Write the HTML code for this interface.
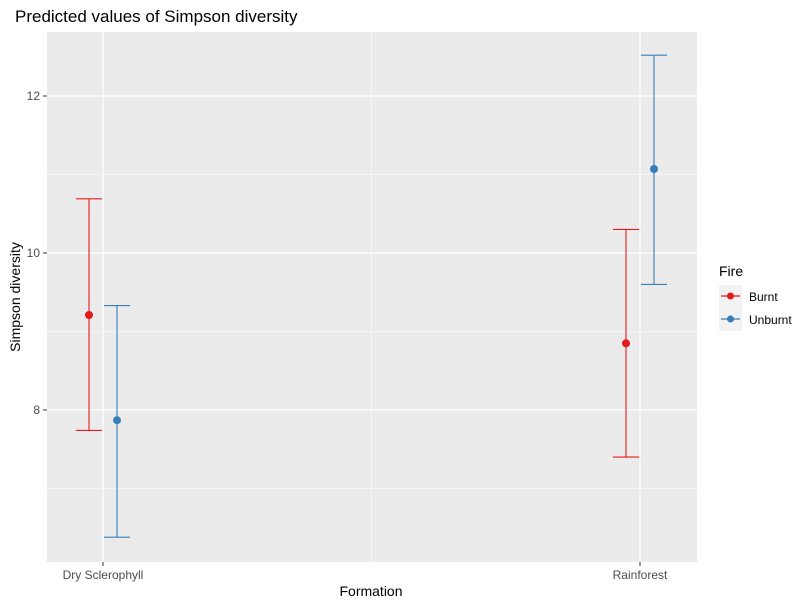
<!DOCTYPE html>
<html><head><meta charset="utf-8"><style>
body{margin:0;background:#fff;font-family:"Liberation Sans",sans-serif}
</style></head><body>
<svg width="808" height="606" xmlns="http://www.w3.org/2000/svg" font-family="Liberation Sans, sans-serif">
<text x="15" y="22" font-size="17" fill="#000">Predicted values of Simpson diversity</text>
<rect x="47" y="32" width="650" height="530" fill="#EBEBEB"/>
<g id="grid"></g>
<g id="marks"></g>
<g id="axes"></g>
<text x="371" y="596" font-size="14" text-anchor="middle">Formation</text>
<text transform="translate(20,297) rotate(-90)" font-size="14" text-anchor="middle">Simpson diversity</text>
<g>
<text x="719" y="276" font-size="14">Fire</text>
<rect x="719" y="285" width="23" height="46" fill="#F2F2F2"/>
<g>
<line x1="721" x2="740" y1="296" y2="296" stroke="#E41A1C" stroke-width="1.2"/>
<circle cx="730.5" cy="296" r="3.5" fill="#E41A1C"/>
<text x="749" y="301" font-size="12">Burnt</text></g>
<g>
<line x1="721" x2="740" y1="319" y2="319" stroke="#377EB8" stroke-width="1.2"/>
<circle cx="730.5" cy="319" r="3.5" fill="#377EB8"/>
<text x="749" y="324" font-size="12">Unburnt</text></g>
</g>
</svg>
<script>
const categories=["Dry Sclerophyll","Rainforest"];
const groups=["Burnt","Unburnt"];
const colors=["#E41A1C","#377EB8"];
const burntPred=[9.21,8.85];
const burntLow=[7.74,7.40];
const burntHigh=[10.69,10.30];
const unburntPred=[7.87,11.07];
const unburntLow=[6.38,9.60];
const unburntHigh=[9.33,12.52];
const yTicks=[8,10,12];
const yMinor=[7,9,11];
const NS="http://www.w3.org/2000/svg";
const y=v=>410-(v-8)*78.5;
const x=i=>103+i*537;
function mk(t,a,p){const e=document.createElementNS(NS,t);for(const k in a)e.setAttribute(k,a[k]);p.appendChild(e);return e;}
const grid=document.getElementById('grid'),marks=document.getElementById('marks'),axes=document.getElementById('axes');
yMinor.forEach(v=>{const l=mk('line',{x1:47,x2:697,y1:y(v),y2:y(v),stroke:'#fff','stroke-width':0.6},grid);

});
yTicks.forEach(v=>{const l=mk('line',{x1:47,x2:697,y1:y(v),y2:y(v),stroke:'#fff','stroke-width':1.2},grid);


mk('line',{x1:43,x2:47,y1:y(v),y2:y(v),stroke:'#333'},axes);
const t=mk('text',{x:40,y:y(v)+4,'font-size':12,'text-anchor':'end',fill:'#4D4D4D'},axes);t.textContent=v;

});
mk('line',{x1:371.5,x2:371.5,y1:32,y2:562,stroke:'#fff','stroke-width':0.6},grid);
categories.forEach((c,i)=>{const l=mk('line',{x1:x(i),x2:x(i),y1:32,y2:562,stroke:'#fff','stroke-width':1.2},grid);


mk('line',{x1:x(i),x2:x(i),y1:562,y2:566,stroke:'#333'},axes);
const t=mk('text',{x:x(i),y:579,'font-size':12,'text-anchor':'middle',fill:'#4D4D4D'},axes);t.textContent=c;

});
const series=[[burntPred,burntLow,burntHigh],[unburntPred,unburntLow,unburntHigh]];
series.forEach((s,g)=>{categories.forEach((c,i)=>{const cx=x(i)+(g===0?-14:14);const col=colors[g];
const e=mk('g',{},marks);


mk('line',{x1:cx,x2:cx,y1:y(s[1][i]),y2:y(s[2][i]),stroke:col,'stroke-width':1.1},e);
mk('line',{x1:cx-13,x2:cx+13,y1:y(s[1][i]),y2:y(s[1][i]),stroke:col,'stroke-width':1.1},e);
mk('line',{x1:cx-13,x2:cx+13,y1:y(s[2][i]),y2:y(s[2][i]),stroke:col,'stroke-width':1.1},e);
const p=mk('circle',{cx:cx,cy:y(s[0][i]),r:4,fill:col},marks);

});});
</script>
</body></html>
